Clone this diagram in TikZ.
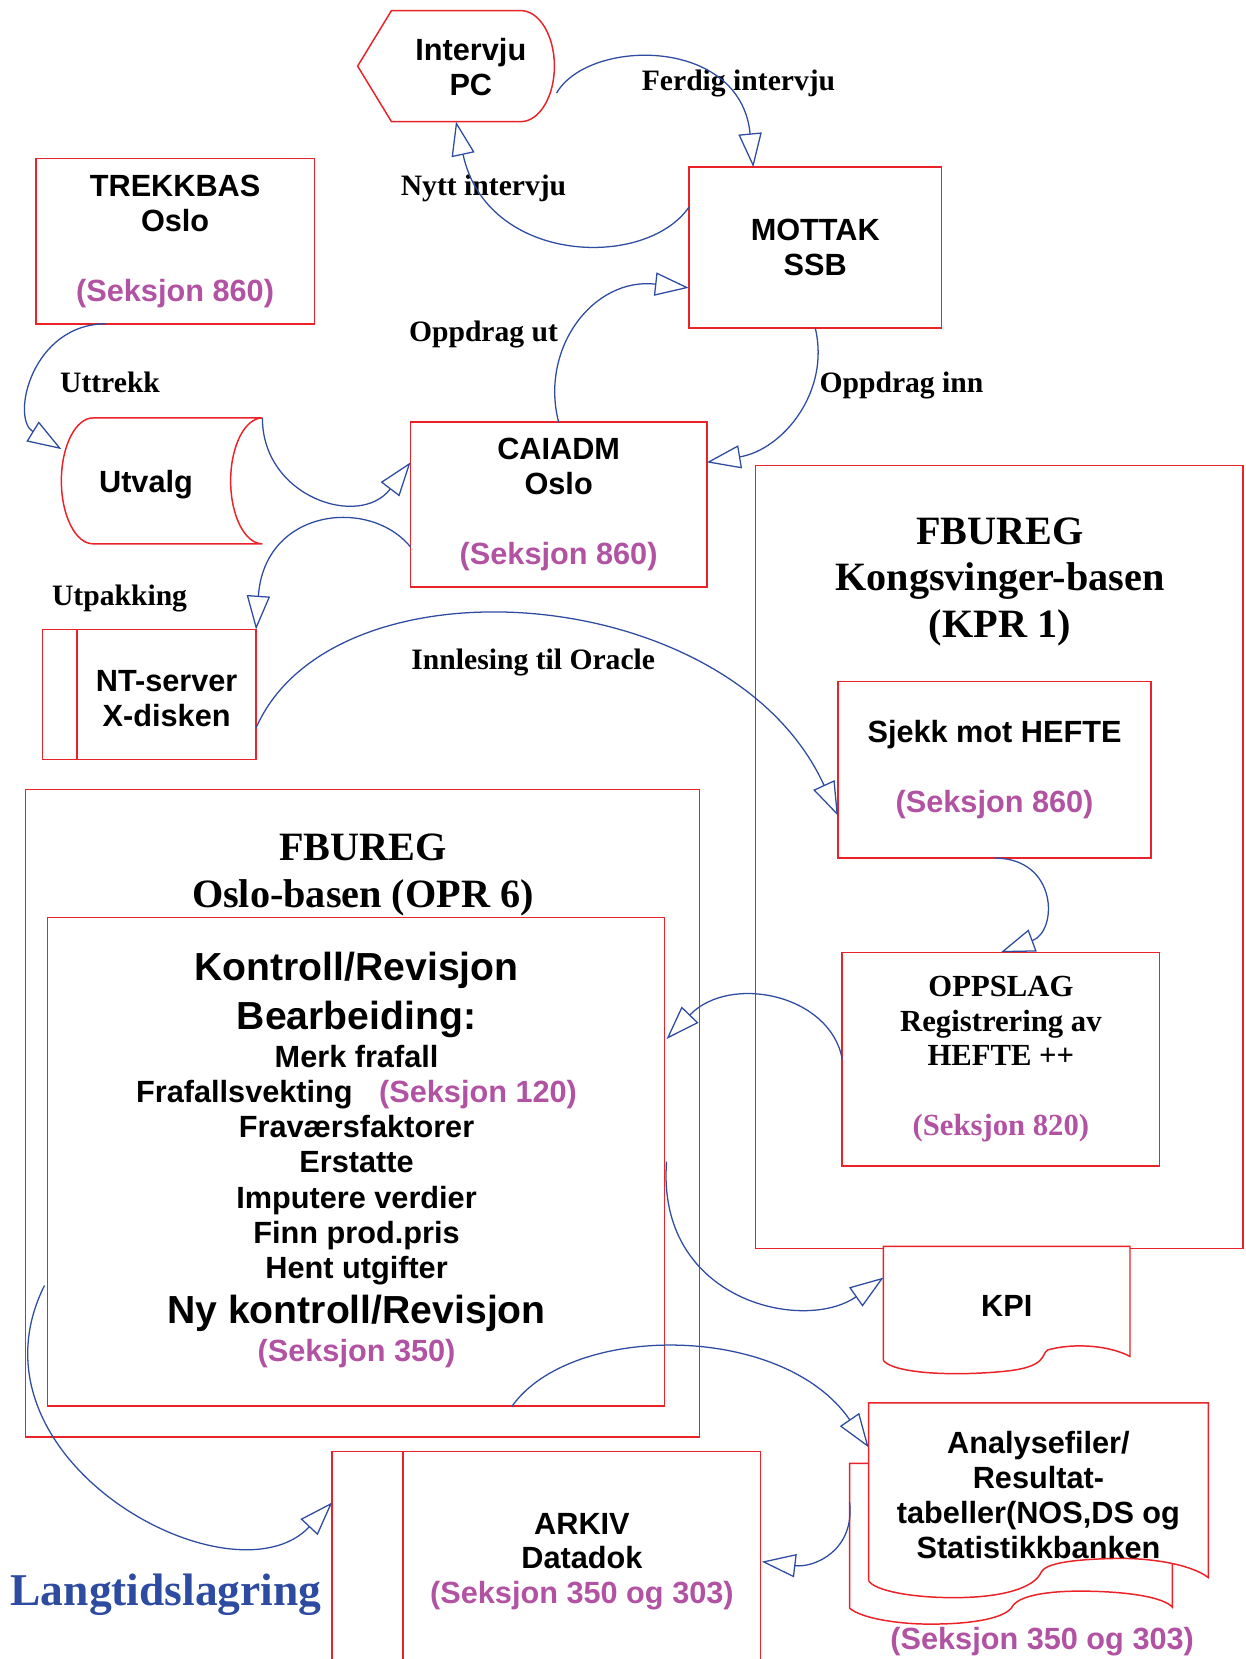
\documentclass[tikz,border=0pt]{standalone}
\usepackage{fontspec}
\setmainfont{Liberation Sans}
\newfontfamily\tnr{Liberation Serif}
\usetikzlibrary{arrows.meta,calc}
\definecolor{boxred}{RGB}{235,35,40}
\definecolor{flowblue}{RGB}{45,75,160}
\definecolor{seksjon}{RGB}{178,82,163}
\newcommand{\seknr}[1]{\textcolor{seksjon}{#1}}
\begin{document}
\begin{tikzpicture}[x=1pt,y=-1pt,
	box/.style={draw=boxred,line width=1.4pt,inner sep=0pt,outer sep=0pt,align=center,font=\bfseries\fontsize{29}{33}\selectfont},
	holder/.style={inner sep=0pt,outer sep=0pt},
	redline/.style={draw=boxred,line width=1.4pt},
	flow/.style={draw=flowblue,line width=1.2pt,-{Triangle[open,length=32pt,width=22pt]}},
	lbl/.style={anchor=base,font=\tnr\bfseries\fontsize{28}{32}\selectfont},
	txt/.style={align=center,font=\bfseries\fontsize{29}{33}\selectfont},
	big/.style={align=center,font=\tnr\bfseries\fontsize{38}{44}\selectfont}]
		\useasboundingbox (0,0) rectangle (1177,1568);
		\clip (0,0) rectangle (1177,1568);
		\node[box,minimum width=461,minimum height=740] (kvbase) at (944.5,810) {};
		\node[big] (kvtitle) at (945,550) {FBUREG\\Kongsvinger-basen\\(KPR 1)};
		\node[box,minimum width=637,minimum height=612] (oslobase) at (342.5,1052) {};
		\node[big] (oslotitle) at (343,827) {FBUREG\\Oslo-basen (OPR 6)};
		\node[box,minimum width=583,minimum height=462] (kontroll) at (336.5,1098) {};
		\foreach \y/\s/\t [count=\i] in {927/37/{Kontroll/Revisjon}, 973/37/Bearbeiding:, 1009/29/Merk frafall, 1042/29/{Frafallsvekting\hspace{25pt}\seknr{(Seksjon 120)}}, 1075/29/Fraværsfaktorer, 1108/29/Erstatte, 1142/29/Imputere verdier, 1175/29/Finn prod.pris, 1208/29/Hent utgifter, 1251/37/{Ny kontroll/Revisjon}, 1287/29/{\seknr{(Seksjon 350)}}}
			\node[anchor=base,font=\bfseries\fontsize{\s}{\s}\selectfont] (k\i) at (337,\y) {\t};
		\node[box,minimum width=296,minimum height=167] (sjekk) at (940,727.5) {Sjekk mot HEFTE\\[33pt]\seknr{(Seksjon 860)}};
		\node[box,minimum width=300,minimum height=202,font=\tnr\bfseries\fontsize{29}{33}\selectfont] (oppslag) at (946,1001) {OPPSLAG\\Registrering av\\HEFTE ++\\[33pt]\seknr{(Seksjon 820)}};
		\node[box,minimum width=239,minimum height=152] (mottak) at (770.5,234) {MOTTAK\\SSB};
		\node[box,minimum width=263,minimum height=156] (trekkbas) at (165.5,228) {TREKKBAS\\Oslo\\[33pt]\seknr{(Seksjon 860)}};
		\node[box,minimum width=280,minimum height=156] (caiadm) at (528,477) {CAIADM\\Oslo\\[33pt]\seknr{(Seksjon 860)}};
		\node[box,minimum width=202,minimum height=123] (ntserver) at (141,656.5) {};
		\draw[redline] ([xshift=33pt]ntserver.north west) -- ([xshift=33pt]ntserver.south west);
		\node[txt] (nttxt) at (157.5,660) {NT-server\\X-disken};
		\node[box,minimum width=405,minimum height=203] (arkiv) at (516.5,1473.5) {};
		\draw[redline] ([xshift=67pt]arkiv.north west) -- ([xshift=67pt]arkiv.south west);
		\node[txt] (arkivtxt) at (550,1476) {ARKIV\\Datadok\\\seknr{(Seksjon 350 og 303)}};
		\node[holder,minimum width=186,minimum height=105] (pc) at (431,62.5) {};
		\draw[redline] (pc.west) -- ([xshift=32pt]pc.north west) -- ([xshift=-32pt]pc.north east) arc[start angle=-90,end angle=90,x radius=32,y radius=52.5] -- ([xshift=32pt]pc.south west) -- cycle;
		\node[txt] (pctxt) at (445,63) {Intervju\\PC};
		\node[holder,minimum width=190,minimum height=119] (utvalg) at (153,454.5) {};
		\draw[redline] (utvalg.north east) -- ([xshift=30pt]utvalg.north west) arc[start angle=270,end angle=90,x radius=30,y radius=59.5] -- (utvalg.south east) arc[start angle=90,end angle=270,x radius=30,y radius=59.5];
		\node[txt] (utvalgtxt) at (138,458) {Utvalg};
		\draw[redline,fill=white] (835,1286) -- (835,1178) -- (1068,1178) -- (1068,1282) .. controls (1045,1270) and (1010,1270) .. (990,1276) .. controls (984,1280) and (990,1292) .. (950,1296) .. controls (900,1301) and (845,1298) .. (835,1286);
		\node[txt,holder,minimum width=233,minimum height=107] (kpi) at (951.5,1234) {KPI};
		\draw[redline,fill=white] (803,1520) -- (803,1383) -- (1108,1383) -- (1108,1519) .. controls (1100,1510) and (1070,1505) .. (1033,1504) .. controls (1000,1503) and (965,1506) .. (957,1518) .. controls (952,1528) and (925,1535) .. (879,1535) .. controls (850,1535) and (815,1530) .. (803,1520);
		\draw[redline,fill=white] (821,1494) -- (821,1326) -- (1142,1326) -- (1142,1491) .. controls (1125,1478) and (1085,1472) .. (1052,1473) .. controls (1010,1474) and (988,1478) .. (984,1486) .. controls (978,1500) and (950,1510) .. (901,1510) .. controls (860,1510) and (826,1503) .. (821,1494);
		\node[txt,holder,minimum width=321] (analyse) at (981.5,1413) {Analysefiler/\\Resultat-\\tabeller(NOS,DS og\\Statistikkbanken};
		\node[txt] (sek350) at (985,1552) {\seknr{(Seksjon 350 og 303)}};
		\node[anchor=base,font=\tnr\bfseries\fontsize{43}{43}\selectfont,text=flowblue] (langtid) at (157,1517) {Langtidslagring};
		\node[lbl] (ferdig) at (698,86) {Ferdig intervju};
		\node[lbl] (nytt) at (457,185) {Nytt intervju};
		\node[lbl] (oppdragut) at (457,323) {Oppdrag ut};
		\node[lbl] (oppdraginn) at (852,371) {Oppdrag inn};
		\node[lbl] (uttrekk) at (104,371) {Uttrekk};
		\node[lbl] (utpakking) at (113,572) {Utpakking};
		\node[lbl] (innlesing) at (504,633) {Innlesing til Oracle};
		\draw[flow] ($(pc.east)+(2,25.5)$) .. controls (556,36) and (700,34) .. ($(mottak.north)+(-58.5,0)$);
		\draw[flow] ($(mottak.west)+(0,-38)$) .. controls (610,255) and (460,250) .. (pc.south);
		\draw[flow] (caiadm.north) .. controls (510,330) and (560,262) .. ($(mottak.west)+(0,38)$);
		\draw[flow] (mottak.south) .. controls (785,370) and (740,425) .. ($(caiadm.east)+(0,-40)$);
		\draw[flow] ($(trekkbas.south)+(-65,0)$) .. controls (30,306) and (10,395) .. ($(utvalg.west)+(0,-30)$);
		\draw[flow] (utvalg.north east) .. controls (248,470) and (340,500) .. ($(caiadm.west)+(0,-40)$);
		\draw[flow] ($(caiadm.west)+(0,40)$) .. controls (350,470) and (250,480) .. (ntserver.north east);
		\draw[flow] ($(ntserver.east)+(0,31.5)$) .. controls (315,522) and (690,548) .. ($(sjekk.west)+(0,43.5)$);
		\draw[flow] (sjekk.south) .. controls (1000,811) and (1000,880) .. (oppslag.north);
		\draw[flow] (oppslag.west) .. controls (785,940) and (690,920) .. ($(kontroll.east)+(2,-116)$);
		\draw[flow] ($(kontroll.east)+(2,0)$) .. controls (620,1230) and (760,1260) .. ($(kpi.west)+(0,-26.5)$);
		\draw[flow] ($(kontroll.south)+(147.5,0)$) .. controls (540,1250) and (740,1250) .. ($(analyse.west)+(0,-45)$);
		\draw[flow] ($(kontroll.west)+(-3,117)$) .. controls (-40,1380) and (220,1520) .. ($(arkiv.west)+(0,-53.5)$);
		\draw[flow] ($(analyse.west)+(-18,7)$) .. controls (808,1465) and (770,1482) .. ($(arkiv.east)+(1,2.5)$);
	\end{tikzpicture}
\end{document}
